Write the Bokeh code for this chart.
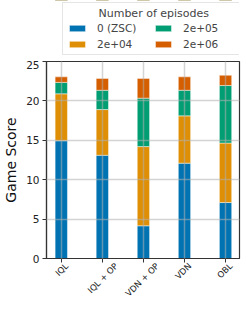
from bokeh.plotting import figure
from bokeh.models import (Legend, LegendItem, Range1d, SingleIntervalTicker, FixedTicker,
                          LinearAxis)
from bokeh.layouts import column
from bokeh.embed import file_html
from bokeh.resources import INLINE
import math

methods = ["IQL", "IQL + OP", "VDN + OP", "VDN", "OBL"]
episode_labels = ["0 (ZSC)", "2e+04", "2e+05", "2e+06"]
score_0 = [14.95, 13.1, 4.15, 12.1, 7.1]
score_2e4 = [20.9, 18.9, 14.2, 18.1, 14.65]
score_2e5 = [22.35, 21.35, 20.35, 21.35, 21.95]
score_2e6 = [23.05, 22.85, 22.85, 23.05, 23.25]
colors = ["#0173b2", "#de8f05", "#029e73", "#d55e00"]

FONT = "DejaVu Sans"
XLAB_SIZE = 8.5
X_LO, X_HI = -0.36, 4.34
W = 241
BL, BR = 41, 2

xs = list(range(len(methods)))
series = [score_0, score_2e4, score_2e5, score_2e6]
bottoms = [[0] * len(methods), score_0, score_2e4, score_2e5]

# ---- main chart ----
p = figure(width=W, height=245, output_backend="svg", toolbar_location=None,
           x_range=Range1d(X_LO, X_HI), y_range=Range1d(0, 25),
           min_border_left=BL, min_border_right=BR, min_border_top=1, min_border_bottom=44)

for s, b, c in zip(series, bottoms, colors):
    p.vbar(x=xs, bottom=b, top=s, width=0.3, fill_color=c,
           line_color="white", line_alpha=0.45, line_width=1)

p.xaxis.ticker = FixedTicker(ticks=xs)
p.xaxis.major_label_overrides = {i: "" for i in xs}
p.xaxis.major_label_text_font_size = "1px"
p.xaxis.major_label_text_color = None
p.xaxis.major_label_standoff = 0
p.yaxis.ticker = SingleIntervalTicker(interval=5)
for ax in (p.xaxis[0], p.yaxis[0]):
    ax.axis_line_color = "#333333"
    ax.axis_line_width = 1.2
    ax.major_tick_line_color = "#333333"
    ax.major_tick_out = 4
    ax.major_tick_in = 0
    ax.minor_tick_line_color = None
p.yaxis.major_label_text_font = FONT
p.yaxis.major_label_text_font_size = "10.5px"
p.yaxis.major_label_text_color = "#222222"
p.yaxis.major_label_standoff = 3
p.yaxis.axis_label = "Game Score"
p.yaxis.axis_label_text_font = FONT
p.yaxis.axis_label_text_font_size = "14px"
p.yaxis.axis_label_text_font_style = "normal"
p.yaxis.axis_label_text_color = "#111111"
p.yaxis.axis_label_standoff = 4

# rotated category labels, centred under each bar (Bokeh right-aligns rotated labels)
px_per_unit = (W - BL - BR) / (X_HI - X_LO)
SCALE = 100
p.extra_x_ranges = {"labels": Range1d(X_LO * SCALE, X_HI * SCALE)}
label_ticks = []
overrides = {}
for i, name in zip(xs, methods):
    half_extent_px = len(name) * 0.6 * XLAB_SIZE * math.cos(math.pi / 4) / 2
    t = int(round((i + half_extent_px / px_per_unit) * SCALE))
    label_ticks.append(t)
    overrides[t] = name
lab_axis = LinearAxis(x_range_name="labels", ticker=FixedTicker(ticks=label_ticks),
                      major_label_overrides=overrides,
                      major_label_orientation=math.pi / 4,
                      major_label_text_font=FONT, major_label_text_font_size=f"{XLAB_SIZE}px",
                      major_label_text_color="#222222", major_label_standoff=2,
                      axis_line_color=None, major_tick_line_color=None,
                      major_tick_out=0, major_tick_in=0, minor_tick_line_color=None)
p.add_layout(lab_axis, "below")

p.outline_line_color = "#333333"
p.outline_line_width = 1.2
p.xgrid.ticker = FixedTicker(ticks=xs)
for g in (p.xgrid[0], p.ygrid[0]):
    g.grid_line_color = "#b0b0b0"
    g.grid_line_alpha = 0.55
    g.grid_line_width = 1.5
    g.level = "overlay"

# ---- legend strip above the chart (same series, scrolled out of its visible range) ----
# its borders equal the chart's, since a column aligns the frames of its plots
lf = figure(width=W, height=60, output_backend="svg", toolbar_location=None,
            x_range=Range1d(X_LO, X_HI), y_range=Range1d(-2, -1),
            x_axis_location=None, y_axis_location=None,
            min_border_left=BL, min_border_right=BR, min_border_top=0, min_border_bottom=0)
lf.outline_line_color = None
lf.xgrid.visible = False
lf.ygrid.visible = False
swatches = [lf.vbar(x=xs, bottom=b, top=s, width=0.3, fill_color=c,
                    line_color="white", line_alpha=0.45, line_width=1)
            for s, b, c in zip(series, bottoms, colors)]
items = [LegendItem(label=lab, renderers=[r]) for lab, r in zip(episode_labels, swatches)]
legend = Legend(items=items, ncols=2, location=(16, 5),
                title="\u00a0" * 9 + "Number of episodes",
                title_text_font=FONT, title_text_font_size="11px", title_text_font_style="normal",
                title_standoff=2,
                label_text_font=FONT, label_text_font_size="10.5px",
                glyph_width=20, glyph_height=8, label_standoff=10, spacing=4,
                label_height=12, label_width=52, padding=4, margin=0,
                border_line_color="#cccccc", border_line_width=1,
                background_fill_alpha=0.9)
lf.add_layout(legend, "center")

open("out.html", "w").write(file_html(column(lf, p), INLINE))
